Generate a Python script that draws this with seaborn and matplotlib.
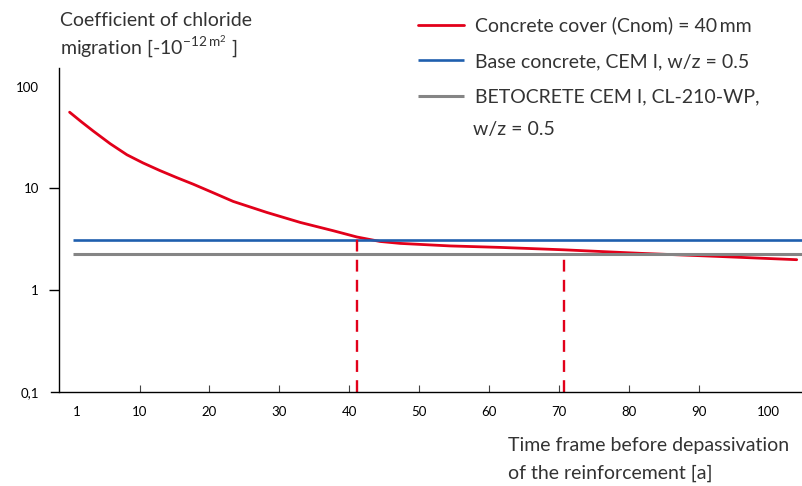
import numpy as np
import matplotlib
matplotlib.use("Agg")
import matplotlib.pyplot as plt
import seaborn as sns
import pandas as pd

# red curve: concrete cover 40 mm
cover_years = [0, 1.7, 3.4, 5.8, 8.2, 10.5, 12.9, 15.3, 17.7, 20.5, 23.4, 28.2, 33.0,
               37.7, 41.1, 44.4, 47.3, 54.4, 61.6, 70.7, 81.6, 93.0, 104.0]
cover_coeff = [56.0, 45.0, 36.5, 27.5, 21.4, 17.8, 15.0, 12.8, 11.0, 9.1, 7.46, 5.82, 4.64,
               3.85, 3.34, 3.02, 2.89, 2.73, 2.64, 2.50, 2.31, 2.15, 2.00]

# constant reference lines
base_coeff = 3.1
betocrete_coeff = 2.27
flat_years = [0.5, 105.0]

# depassivation markers
marker_years = [41.1, 70.7]
marker_tops = [3.3, 2.3]

labels = ["Concrete cover (Cnom) = 40\u2009mm",
          "Base concrete, CEM I, w/z = 0.5",
          "BETOCRETE CEM I, CL-210-WP,"]
xtick_major = [10, 20, 30, 40, 50, 60, 70, 80, 90]
xtick_end = [1, 100]
ytick_major = [1, 10]
ytick_end = [0.1, 100]
ytick_end_labels = ["0,1", "100"]

RED = "#e2001a"
BLUE = "#1f5fae"
GRAY = "#858585"
TEXT = "#333333"
FS = 14

sns.set_style("ticks")
plt.rcParams["font.family"] = ["Lato", "DejaVu Sans"]

fig = plt.figure(figsize=(8.03, 4.86), dpi=100)
ax = fig.add_axes([51 / 803, 1 - 392.3 / 486, 1 - 51 / 803, (392.3 - 68) / 486])

df = pd.DataFrame({"year": cover_years, "coeff": cover_coeff})
sns.lineplot(data=df, x="year", y="coeff", ax=ax, color=RED, lw=2.0, label=labels[0])
ax.hlines(base_coeff, flat_years[0], flat_years[1], color=BLUE, lw=1.9, label=labels[1])
ax.hlines(betocrete_coeff, flat_years[0], flat_years[1], color=GRAY, lw=2.2, label=labels[2])
ax.vlines(marker_years, 0.1, marker_tops, color=RED, lw=1.7, linestyles=(0, (5, 3.5)))

ax.set_yscale("log")
ax.set_ylim(0.1, 152)
ax.set_xlim(-2.66, 104.9)
ax.spines["top"].set_visible(False)
ax.spines["right"].set_visible(False)
ax.spines["left"].set_position(("data", -1.52))
ax.spines["left"].set_bounds(0.1, 152)
for s in ["left", "bottom"]:
    ax.spines[s].set_color("black")
    ax.spines[s].set_linewidth(1.0)

ax.set_xticks(xtick_major)
ax.set_xticks(xtick_end, minor=True)
ax.set_xticklabels([str(v) for v in xtick_major])
ax.set_xticklabels([str(v) for v in xtick_end], minor=True)
ax.tick_params(axis="x", which="major", direction="in", length=5, width=0.8,
               color="#444444", pad=10, labelsize=9.5, labelcolor="black")
ax.tick_params(axis="x", which="minor", length=0, pad=10, labelsize=9.5, labelcolor="black")

ax.set_yticks(ytick_major)
ax.set_yticklabels([str(v) for v in ytick_major])
ax.set_yticks(ytick_end, minor=True)
ax.set_yticklabels(ytick_end_labels, minor=True)
ax.tick_params(axis="y", which="major", direction="out", length=7.5, width=1.0,
               color="black", pad=7, labelsize=9.5, labelcolor="black")
ax.tick_params(axis="y", which="minor", length=0, pad=14.5, labelsize=9.5, labelcolor="black")
ax.set_xlabel("")
ax.set_ylabel("")

leg = ax.legend(loc="upper left", bbox_to_anchor=(408 / 803, 1 - 7 / 486),
                bbox_transform=fig.transFigure, frameon=False, borderpad=0,
                handlelength=2.4, handletextpad=0.55, labelspacing=0.95,
                fontsize=FS)
for t in leg.get_texts():
    t.set_color(TEXT)
fig.text(473 / 803, 1 - 130 / 486, "w/z = 0.5", fontsize=FS, color=TEXT,
         va="center", ha="left")

fig.text(60 / 803, 1 - 20 / 486, "Coefficient of chloride", fontsize=FS,
         color=TEXT, va="center", ha="left")
fig.text(60 / 803, 1 - 47 / 486, r"migration [-10$^{\mathregular{-12\,m^2}}$ ]",
         fontsize=FS, color=TEXT, va="center", ha="left")

fig.text(508 / 803, 1 - 445 / 486, "Time frame before depassivation",
         fontsize=FS, color=TEXT, va="center", ha="left")
fig.text(508 / 803, 1 - 473 / 486, "of the reinforcement [a]",
         fontsize=FS, color=TEXT, va="center", ha="left")

fig.savefig("out.png", dpi=100)
